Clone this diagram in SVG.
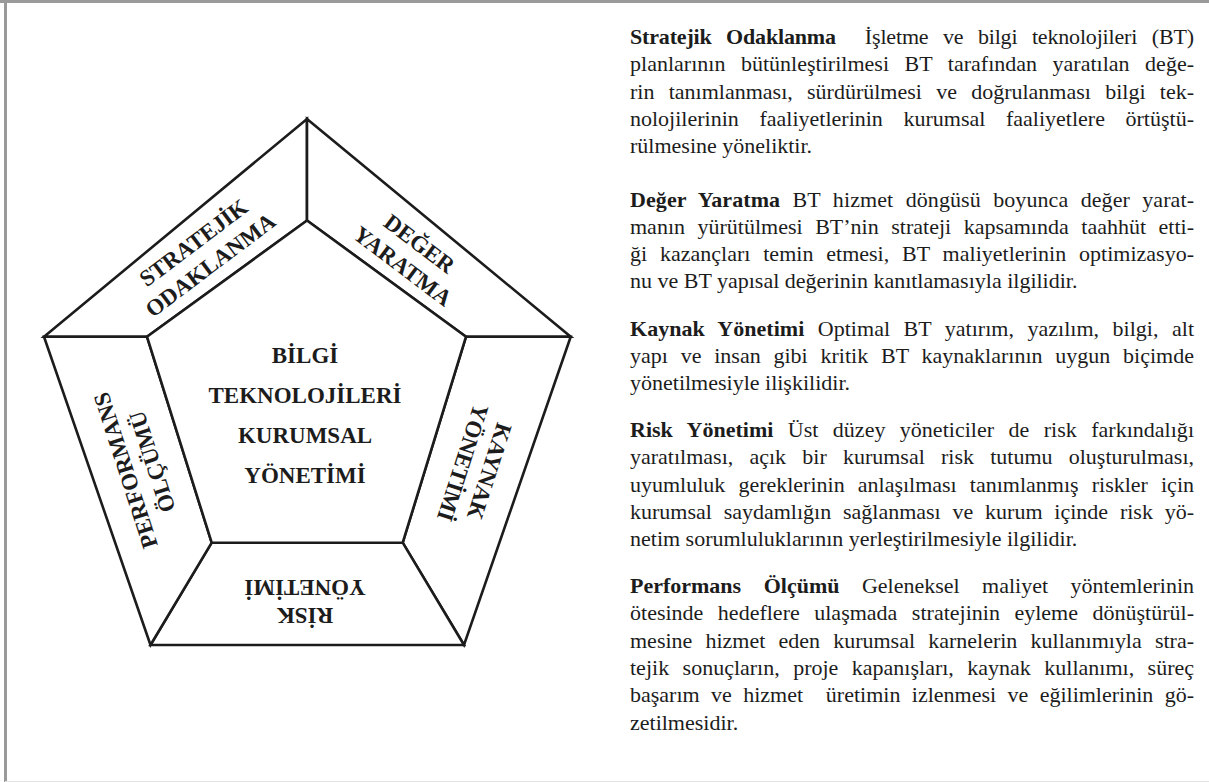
<svg xmlns="http://www.w3.org/2000/svg" width="1209" height="782" viewBox="0 0 1209 782">
  <style>
    .band{fill:#fff;stroke:#1c1c1c;stroke-width:2.6;stroke-linejoin:miter}
    .lbl{font-family:'Liberation Serif','Times New Roman',serif;font-weight:bold;font-size:23px;fill:#1c1c1c;text-anchor:middle}
    .body{font-family:'Liberation Serif','Times New Roman',serif;font-size:22px;fill:#1c1c1c}
    .h{font-weight:bold}
  </style>
  <rect width="1209" height="782" fill="#fff"/>
  <!-- page frame -->
  <g id="frame">
    <line x1="0" y1="1.5" x2="1209" y2="1.5" stroke="#9a9a9a" stroke-width="3"/>
    <line x1="5.5" y1="0" x2="5.5" y2="782" stroke="#9a9a9a" stroke-width="3"/>
    <line x1="5" y1="781.5" x2="1209" y2="781.5" stroke="#e2e2e2" stroke-width="1"/>
  </g>

  <!-- pentagon: five outer bands around a central core -->
  <g id="strategic-focus">
    <polygon class="band" points="44,336.7 307,119 307,220.5 147,336.7"/>
    <g transform="translate(202,254) rotate(-37)">
      <text class="lbl" x="0" y="-6.4">STRATEJİK</text>
      <text class="lbl" x="0" y="21.6">ODAKLANMA</text>
    </g>
  </g>
  <g id="value-creation">
    <polygon class="band" points="307,119 570.7,336.7 466,336.7 307,220.5"/>
    <g transform="translate(411,255) rotate(37)">
      <text class="lbl" x="0" y="-6.4">DEĞER</text>
      <text class="lbl" x="0" y="21.6">YARATMA</text>
    </g>
  </g>
  <g id="resource-management">
    <polygon class="band" points="570.7,336.7 464,645 402.7,542.7 466,336.7"/>
    <g transform="translate(476,467) rotate(108)">
      <text class="lbl" x="0" y="-6.4">KAYNAK</text>
      <text class="lbl" x="0" y="21.6">YÖNETİMİ</text>
    </g>
  </g>
  <g id="risk-management">
    <polygon class="band" points="464,645 150.5,645 211.7,542.7 402.7,542.7"/>
    <g transform="translate(305,602) rotate(180)">
      <text class="lbl" x="0" y="-6.4">RİSK</text>
      <text class="lbl" x="0" y="21.6">YÖNETİMİ</text>
    </g>
  </g>
  <g id="performance-measurement">
    <polygon class="band" points="150.5,645 44,336.7 147,336.7 211.7,542.7"/>
    <g transform="translate(139,466) rotate(-108)">
      <text class="lbl" x="0" y="-6.4">PERFORMANS</text>
      <text class="lbl" x="0" y="21.6">ÖLÇÜMÜ</text>
    </g>
  </g>
  <g id="it-governance">
    <polygon class="band" points="307,220.5 466,336.7 402.7,542.7 211.7,542.7 147,336.7"/>
    <text class="lbl" x="305" y="363">BİLGİ</text>
    <text class="lbl" x="305" y="403">TEKNOLOJİLERİ</text>
    <text class="lbl" x="305" y="443">KURUMSAL</text>
    <text class="lbl" x="305" y="483">YÖNETİMİ</text>
  </g>

  <!-- explanatory paragraphs, justified column (word spacing per line) -->
  <g id="descriptions" class="body">
    <text x="630" y="44" word-spacing="9.2" textLength="564" lengthAdjust="spacing" xml:space="preserve"><tspan class="h">Stratejik Odaklanma</tspan>  İşletme ve bilgi teknolojileri (BT)</text>
    <text x="630" y="71.3" word-spacing="10" textLength="564" lengthAdjust="spacing">planlarının bütünleştirilmesi BT tarafından yaratılan değe-</text>
    <text x="630" y="98.6" word-spacing="8.75" textLength="564" lengthAdjust="spacing">rin tanımlanması, sürdürülmesi ve doğrulanması bilgi tek-</text>
    <text x="630" y="125.9" word-spacing="15.1" textLength="564" lengthAdjust="spacing">nolojilerinin faaliyetlerinin kurumsal faaliyetlere örtüştü-</text>
    <text x="630" y="153.2">rülmesine yöneliktir.</text>

    <text x="630" y="206.5" word-spacing="6.8" textLength="564" lengthAdjust="spacing"><tspan class="h">Değer Yaratma</tspan> BT hizmet döngüsü boyunca değer yarat-</text>
    <text x="630" y="233.8" word-spacing="7" textLength="564" lengthAdjust="spacing">manın yürütülmesi BT’nin strateji kapsamında taahhüt etti-</text>
    <text x="630" y="261.1" word-spacing="7.3" textLength="564" lengthAdjust="spacing">ği kazançları temin etmesi, BT maliyetlerinin optimizasyo-</text>
    <text x="630" y="288.4">nu ve BT yapısal değerinin kanıtlamasıyla ilgilidir.</text>

    <text x="630" y="335.5" word-spacing="7.9" textLength="564" lengthAdjust="spacing"><tspan class="h">Kaynak Yönetimi</tspan> Optimal BT yatırım, yazılım, bilgi, alt</text>
    <text x="630" y="362.8" word-spacing="7.25" textLength="564" lengthAdjust="spacing">yapı ve insan gibi kritik BT kaynaklarının uygun biçimde</text>
    <text x="630" y="390.1">yönetilmesiyle ilişkilidir.</text>

    <text x="630" y="437" word-spacing="8.9" textLength="564" lengthAdjust="spacing"><tspan class="h">Risk Yönetimi</tspan> Üst düzey yöneticiler de risk farkındalığı</text>
    <text x="630" y="464.3" word-spacing="10.7" textLength="564" lengthAdjust="spacing">yaratılması, açık bir kurumsal risk tutumu oluşturulması,</text>
    <text x="630" y="491.6" word-spacing="7.6" textLength="564" lengthAdjust="spacing">uyumluluk gereklerinin anlaşılması tanımlanmış riskler için</text>
    <text x="630" y="518.9" word-spacing="6.3" textLength="564" lengthAdjust="spacing">kurumsal saydamlığın sağlanması ve kurum içinde risk yö-</text>
    <text x="630" y="546.2">netim sorumluluklarının yerleştirilmesiyle ilgilidir.</text>

    <text x="630" y="593" word-spacing="17" textLength="564" lengthAdjust="spacing"><tspan class="h">Performans Ölçümü</tspan> Geleneksel maliyet yöntemlerinin</text>
    <text x="630" y="620.3" word-spacing="9" textLength="564" lengthAdjust="spacing">ötesinde hedeflere ulaşmada stratejinin eyleme dönüştürül-</text>
    <text x="630" y="647.6" word-spacing="7.65" textLength="564" lengthAdjust="spacing">mesine hizmet eden kurumsal karnelerin kullanımıyla stra-</text>
    <text x="630" y="674.9" word-spacing="7.95" textLength="564" lengthAdjust="spacing">tejik sonuçların, proje kapanışları, kaynak kullanımı, süreç</text>
    <text x="630" y="702.2" word-spacing="5.9" textLength="564" lengthAdjust="spacing" xml:space="preserve">başarım ve hizmet  üretimin izlenmesi ve eğilimlerinin gö-</text>
    <text x="630" y="729.5">zetilmesidir.</text>
  </g>
</svg>
